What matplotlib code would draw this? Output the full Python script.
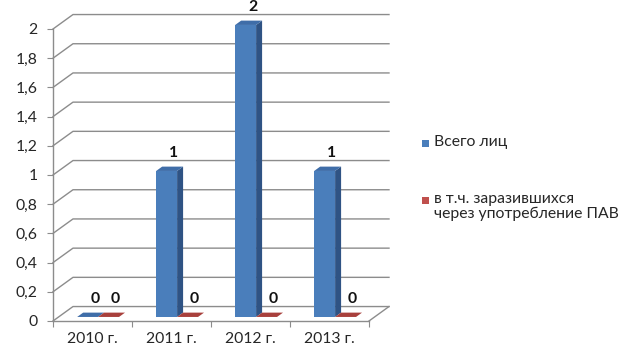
import matplotlib
matplotlib.use('Agg')
import numpy as np
from matplotlib import pyplot as plt
from matplotlib.patches import Polygon, Rectangle

plt.rcParams['font.family'] = ['Lato', 'Open Sans', 'DejaVu Sans']

categories = ['2010 г.', '2011 г.', '2012 г.', '2013 г.']
series_names = ['Всего лиц', 'в т.ч. заразившихся\nчерез употребление ПАВ']
total = [0, 1, 2, 1]
via_pav = [0, 0, 0, 0]
yticks = [0, 0.2, 0.4, 0.6, 0.8, 1.0, 1.2, 1.4, 1.6, 1.8, 2.0]

front_colors = ['#4A7EBB', '#C0504D']
top_colors = ['#3F6DA8', '#A8403C']
side_colors = ['#2F5384', '#8A3330']

W, H = 628, 351
fig = plt.figure(figsize=(W / 100, H / 100), dpi=100)

# depth offset of the back wall, in data units
DX, DY = 0.253, 0.099
f0, depth = 0.28, 0.30
bw = 0.265
grid_c = '#8C8C8C'
txt_c = '#262626'
fs = 11.3

ax = fig.add_axes([53 / W, 30 / H, 4.26 * 79 / W, 2.1 * 146 / H])
ax.set_xlim(0, 4.26)
ax.set_ylim(0, 2.1)
for s in ['top', 'right']:
    ax.spines[s].set_visible(False)
ax.spines['left'].set_bounds(0, 2)
ax.spines['bottom'].set_bounds(0, 4)
for s in ['left', 'bottom']:
    ax.spines[s].set_color(grid_c)
    ax.spines[s].set_linewidth(1.0)

ax.set_yticks(yticks)
ax.set_yticklabels([('%g' % v).replace('.', ',') for v in yticks])
ax.tick_params(axis='y', length=4, color=grid_c, pad=7, labelsize=fs, labelcolor=txt_c)
ax.set_xticks(range(len(categories) + 1))
ax.set_xticklabels([])
ax.tick_params(axis='x', which='major', length=4, color=grid_c)
ax.set_xticks(np.arange(len(categories)) + 0.5, minor=True)
ax.set_xticklabels(categories, minor=True)
ax.tick_params(axis='x', which='minor', length=0, pad=8, labelsize=fs, labelcolor=txt_c)

# back wall gridlines and left wall diagonals
for v in yticks:
    ax.plot([0, DX, 4 + DX], [v, v + DY, v + DY], color=grid_c, lw=1.0, zorder=1, clip_on=False)
# floor right edge
ax.plot([4, 4 + DX], [0, DY], color=grid_c, lw=1.0, zorder=1, clip_on=False)

for s, vals in enumerate([total, via_pav]):
    x0 = np.arange(len(vals)) + 0.5 - bw + s * bw + f0 * DX
    y0 = f0 * DY
    ax.bar(x0, vals, width=bw, bottom=y0, align='edge', color=front_colors[s],
           edgecolor='none', zorder=3)
    ddx, ddy = depth * DX, depth * DY
    for x, v in zip(x0, vals):
        y1 = y0 + v
        side = [(x + bw, y0), (x + bw + ddx, y0 + ddy), (x + bw + ddx, y1 + ddy), (x + bw, y1)]
        top = [(x, y1), (x + bw, y1), (x + bw + ddx, y1 + ddy), (x + ddx, y1 + ddy)]
        ax.add_patch(Polygon(side, closed=True, facecolor=side_colors[s], edgecolor='none', zorder=3))
        ax.add_patch(Polygon(top, closed=True, facecolor=top_colors[s], edgecolor='none', zorder=4))
        ax.text(x + bw / 2 + 0.09, v + 0.15, '%g' % v, ha='center', va='center',
                fontsize=fs, fontweight='bold', color='#111111', clip_on=False, zorder=5)

# legend
leg_y = [143, 200]
for s, name in enumerate(series_names):
    yc = leg_y[s]
    fig.add_artist(Rectangle((422 / W, 1 - (yc + 4) / H), 7 / W, 7 / H,
                             transform=fig.transFigure, facecolor=front_colors[s], edgecolor='none'))
    fig.text(434 / W, 1 - (yc - 8) / H, name, ha='left', va='top', fontsize=fs,
             color=txt_c, linespacing=1.1)

fig.savefig('out.png', dpi=100)
